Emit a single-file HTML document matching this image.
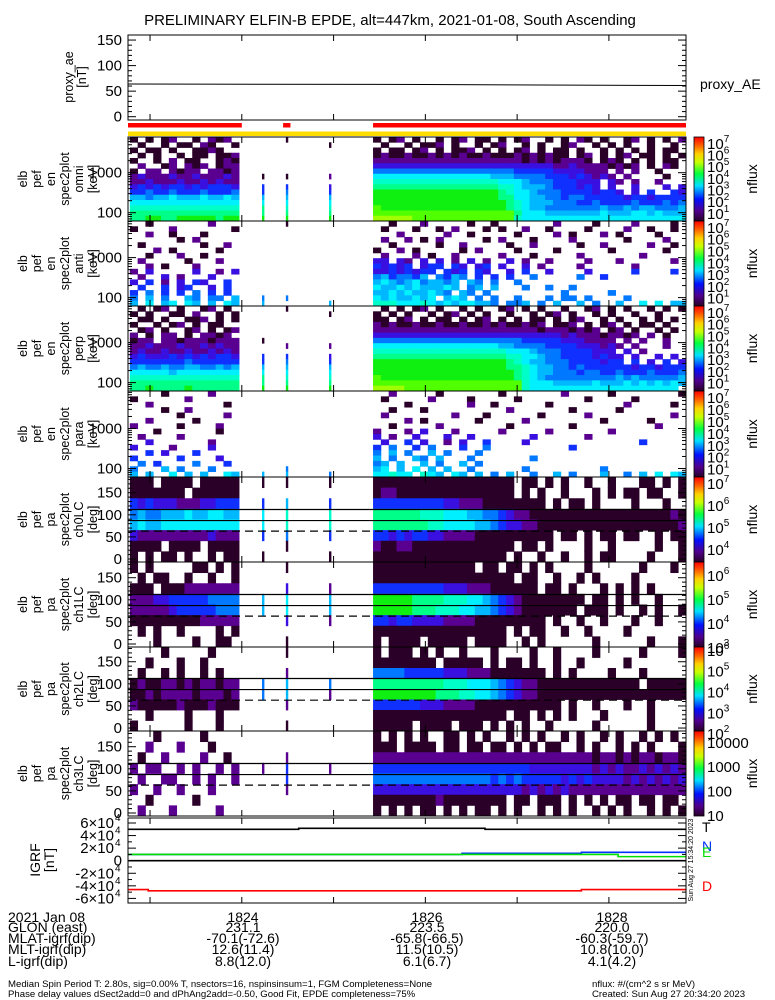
<!DOCTYPE html>
<html><head><meta charset="utf-8"><style>
html,body{margin:0;padding:0;background:#fff;}
svg{display:block;font-family:"Liberation Sans",sans-serif;}
</style></head><body>
<svg id="chart" width="775" height="1000" viewBox="0 0 775 1000" xmlns="http://www.w3.org/2000/svg">
<defs>
<linearGradient id="cmap" x1="0" y1="1" x2="0" y2="0">
<stop offset="0" stop-color="#280028"/><stop offset="0.12" stop-color="#50008c"/><stop offset="0.26" stop-color="#0010ff"/><stop offset="0.42" stop-color="#00e0ff"/><stop offset="0.56" stop-color="#00ff40"/><stop offset="0.7" stop-color="#c8ff00"/><stop offset="0.8" stop-color="#ffd000"/><stop offset="0.9" stop-color="#ff6000"/><stop offset="1" stop-color="#ff0000"/>
</linearGradient>
</defs>
<text x="390" y="25" font-size="15" text-anchor="middle">PRELIMINARY ELFIN-B EPDE, alt=447km, 2021-01-08, South Ascending</text>
<g id="g"></g>
<g font-size="14">
<text x="8" y="922">2021 Jan 08</text><text x="8" y="932">GLON (east)</text><text x="8" y="943">MLAT-igrf(dip)</text><text x="8" y="954">MLT-igrf(dip)</text><text x="8" y="966">L-igrf(dip)</text>
<g text-anchor="middle">
<text x="243" y="922">1824</text><text x="243" y="932">231.1</text><text x="243" y="943">-70.1(-72.6)</text><text x="243" y="954">12.6(11.4)</text><text x="243" y="966">8.8(12.0)</text>
<text x="427" y="922">1826</text><text x="427" y="932">223.5</text><text x="427" y="943">-65.8(-66.5)</text><text x="427" y="954">11.5(10.5)</text><text x="427" y="966">6.1(6.7)</text>
<text x="612" y="922">1828</text><text x="612" y="932">220.0</text><text x="612" y="943">-60.3(-59.7)</text><text x="612" y="954">10.8(10.0)</text><text x="612" y="966">4.1(4.2)</text>
</g></g>
<g font-size="9.6">
<text x="8" y="987">Median Spin Period T: 2.80s, sig=0.00% T, nsectors=16, nspinsinsum=1, FGM Completeness=None</text>
<text x="8" y="997">Phase delay values dSect2add=0 and dPhAng2add=-0.50, Good Fit, EPDE completeness=75%</text>
<text x="592" y="987">nflux: #/(cm^2 s sr MeV)</text>
<text x="592" y="997">Created: Sun Aug 27 20:34:20 2023</text>
</g>
</svg>
<script>
const NS="http://www.w3.org/2000/svg";
const G=document.getElementById('g');
// ---- data ----
const timeTicks=[23,24,25,26,27,28];
const leftSeg=[22.78,23.97];
const rightSeg=[25.43,28.84];
const spikeTimes=[24.22,24.48,24.95];
const proxyTimes=[22.76,26.0,28.84];
const proxyValues=[64,63,61];
const redBarSegs=[[22.76,24.0],[24.45,24.53],[25.43,28.84]];
const igrfT_times=[22.76,24.62,26.65,28.84];
const igrfT_values=[50000,51500,50000];
const igrfN_times=[22.76,25.9,26.4,27.7,28.84];
const igrfN_values=[10000,10000,11700,13300];
const igrfE_times=[22.76,28.1,28.84];
const igrfE_values=[10000,6500];
const igrfD_times=[22.76,22.98,27.7,28.84];
const igrfD_values=[-46000,-48000,-46000];
const igrfZero=[0];
const paSolid=[87,112];
const paDashed=[63];
const energyTicks=[100,1000];
const paTicks=[0,50,100,150];
const palette={a:'#2a0028',b:'#5a0090',c:'#3a10e0',d:'#1030ff',e:'#0078ff',f:'#00b8ff',g:'#00f0ff',h:'#00ffc8',i:'#00ff88',j:'#10f010',k:'#50ff00',l:'#a0ff00'};

const L1=["a.a.ab..a.bab.",".a..a.aa.ba..a","a.aa.a..aaba..",".a.a..a.aa.aab","a..a.b.aa..aba",".b..ab.bab.abb","a.bb.babb.bbab","bcbbbcbbcbbbcb","bbcbbbcbbcbcbb","cdcdcddcdcdddc","ddeddedddeddde","ffeffgfffgffgf","gggggggggggggg","hhhhhhhhhhhhhh","iiiiiiiiiiiiii","iijjiijjjjjijj"];
const R1=["a.ab.a..a.ab.aa.a.ab..a.a.ba.a..ab.a.a.b",".a..a.aab.a..a.ab..a.a..ab..a.a.a..a..a","a.aa.ab.a.aab.a.a.ab.a.aa.a..a.a.a.a.aa","abaabaabababaabaaabababaa.ab.a.ab.aa.a.a","bbbbbbbbbbbbbbbbbbbabababbba.aba.a.a.aa.","cccccccccccccccccccccccbbcbbbbabab.a.ba.","eeeeeeeeeeeeeeeeeedddddccccbbb.b.b..a...","gggggggggggggggfffeeeedddcdcbcb.b....a..","hhhhhhhhhhhhhhhhgggfeeedddccc.cb.b..b...","iiiiiiiiiiiiiiiihhgfffedddcdc.c..c...c.c","jjjjjjjjjjjjjjjjihggfeeeddddcddc.c.d..dc","jjjjjjjjjjjjjjjjiiggffeedeedddddcddcdddd","jjjjjjjjjjjjjjjjjihgfffeeeddeddddedddede","kjjjjjjjjjjjjjjjjihgffeeeeeeefeefeffeeef","kkkkkkkkkkkkkkkkkkigggfffffffgfffggfgfff","lllllkkkkkkkkkkkkkhggggggggggggggggggggg"];
const S1=[".......a.ddfgiij","a......a.defghij",".a.....b.cdfghij"];
const L2=["..a.......b...","a....b.......a","..b..a...a....","......a.b.....",".a.......a..b.","...b.a.....a..","..a...b..a....",".b.....a...b..","..b.a...b.....","b.c.....c..b.c",".b..c.b...c...","c.d.b.c.dc..d.",".d..d.cd..c.d.","d.e.d.d.e.d.d.","e.f.e..fe.ee.f","f.g.fg.gf.f.gf"];
const R2=["..a...b.....a..a.......b....a....b....a.",".a...a..a.b...a.a..b..a....a....b..a..a.","...b.....b..a.....a....b.a...b.a....a...",".b..b.a.b.....a.b...a....b......a....b..","..a.....a..b.....a..b.....a..b.....b..a.","a..b.a.....a.b....a....a......a......a..",".b...b.a..b.....b...a.....b.......b.....","cc.cb.c.c.b.c.b..c.b..b....b...b......b.","dcdcd.cdd.dc.cd.c..c.b....b......b......","ccdcdcdd.dcd.dc..c.d..c....c.....d....d.","efdeedf.edfe.d.d.d..e.....e..d..........","fgfefgeffef.fe.e..e.....................","gffgfgfffgf.ef.f...e..e..e..............","ffgfgffgfe.fe.e.........e.....e.........","gfgffgfg.fgf.e.e..e...e.ee.e....e.......","hhhggghgfgfggffe.eef.e.f..f.e..f..g.g.ff"];
const S2=["..............ef","a.............e.","...............f"];
const L3=[".a.ab.a..ab.a.","a.a..aa.b..a.a",".aa.a..aab.a.a","a..a.ab.a.aa..",".ab.a..ab.a.ab","b.a.bb.a.bbab.","abb.bbabbbabbb","bbcbbbcbbcbcbb","bcbbcbbcbbcbcb","cdcccdcdcdcddc","dddddddedddddd","efeefeeffeefef","gggggfgggggggg","hhhhhhhhhhhhhh","iiiiiiiiiiiiii","iijiiiijiiiiii"];
const R3=[".a.a.ab.a..a.a..ab.a.a..a..ab.a.a..a.a.a","a.a.a..a.ab.a.a..a..a.ab.a..a.a..a..a..","aa.ab.a.aa.a.ab.a.a.aa.a.ab..a.a..a.a.a.","babaabaabaabaababaabab.aab.a.ab.a.aa.a..","bbbbbbbbbbbbbbbbbbbbbabbbabab.ab.a..a.a.","ccccccccccccccccccccccccbcbbbabbab.b.a..","eeeeeeeeeeeeeeeeeeedddddcccbbbb.b.b..b..","ggggggggggggggggffeeeeddddcccbcb.b...b..","hhhhhhhhhhhhhhhhhgggfeeeddddccc.c.b.....","iiiiiiiiiiiiiiiiihhggfeeddddcdcc.c..c.c.","jjjjjjjjjjjjjjjjjihgffeeeddddcdd.d.c.d.c","jjjjjjjjjjjjjjjjjiihgffeededdddddcddcddd","jjjjjjjjjjjjjjjjjjihgffeeedeeddedddeddde","kjjjjjjjjjjjjjjjjjihgfeeeeeeeeefefeeeeef","kkkkkkkkkkkkkkkkkkkhgggfffffgfffgfgfgfgf","llllkkkkkkkkkkkkkkkhggggggggggggggggggg"];
const S3=["......a..ddfgiij","a......b.defghij",".a.....b.cdfghij"];
const L4=["....a.....b...","a......b......","..b.........a.","....a..b......","......a.....b.","..b.....a.....","b.....a....b..","...a.......a..",".b....b.......","..c.......b...","c....b....c...","..d.c...d.....","d.....d....c..",".e.d....e...d.","e...f.e...e...","f.f..g.f.f..gf"];
const R4=["..b.....a.......a.......b.....a........a",".a.....b....a.....a........a.....a.....","....a.......b..a......a.........b.....a.","..a...a..........b.......a.....a.......",".b........b...a......a.....b..........b.","....b.a......a.....b.........a.....a....","..a.....b........a.......a..........b...","b...b.c...b.....b.....b.......b.........","c.b..c...c..c.......c......b............",".c..d.c..b.c..d....c..............d.....","d.e..d.e...d..e..........d..............","e.f.e..f.e...e..........................","f.e..fe.f...e.......e...................","ef.f..f.e..f.e..........................","fg.f.g.f.f..e......e.........e..........","gghgg.hgf.gf.f.e.f..e..f.e...f..e.f.g.gf"];
const S4=["...............f","..............ef","...............e"];
const L5=["aaa.aaaa.aaaaa","aaaaaaa.aaaaaa","dcdcccbbbccddd","efeefffgffggff","fgffgggggggggg","cbbbbbbbbbcbbb","aaaa.aaaa.aaaa","a.a.aa.a..a.aa"];
const R5=["aaaaaaaaaaaaaaaaaa.aa.a.a..a..a...aa.a.a","abbaaaaaaaaaaaaaaa.a.a..a...a.a.aa.aa..a","dddddddddccbbbaaaaaaaa.a.aa.a....a...a..","iiiiiihhhgggffeedcbbaaaaaaaaaaaaaaaaaaba","iiiiiiihhggggffedccbbaaaaaaaaaaaaaaaaaab","ddcdcddccbbbbaaaaaaaaaa.aa.a.aa.aa..a.aa","baabbaaaaaaaaaaaaa.aa.a....a..a.....a..a","aaaaaaaaaaaaaaaaa.a..a..a..a.aa....a...a"];
const S5=["a.dggd.a","a.fhhea.","a.dhhd.a"];
const L6=["a.a.....aa.a.a",".a.aa..a..a..a","aaa.aaabbbbbbb","bbbccdddddeeee","bbbbbcdddddeee","aaaaaaaaabbbbb",".a.a..a....a.a","...a....a..aa."];
const R6=["aaaaaaaaaaaaa.aa.aa.a.a....a......a...a.","aaaaaaaaaaaaaaaaaa.aa..a..a.a....a......","dddddddddcccbbbaaaaaa.aa.a...a.a.a.a....","jjjjjiiiihhhggfedcbaaaaaaaa.aa.a.a..a...","jjjjjiiihhhggffedcbaaaaaaa.aaa.a..a.a..a","ddcddccccbbbbaaaaaaaaa.a..a..a...a..a...","aaaaaaaaaaaaaaaaa.a.aa..a..a....a.......","a.aaaa.aaaaa.aaaa..a.a......a......a...a"];
const S6=["...ff...","a.cggc.a","..bffb.."];
const L7=["....a.....a...","..a...a..a....",".a..a.a..a.a..","abaabbababbabb","aababbbbabbbab","baaaaabaaabaaa","..a....a...a..","a......a...a.."];
const R7=["a.aaa.a.a..a...a....a..a....a.....a....a","aaaaaaaa.aaaaa.a.aa.a..a..a.....a.......","eeeedddddcccbbbaaaaaaa.a.a....a...a.....","iiiiiiiiihhhgggfedcbbaaaaaaaaaaaaa.aaaaa","jjjjjjjjiiihhggfedcbbaaaaaaaaaaaaaaaaaaa","ddddddcccbbbbaaaaaaaaaaa.a..a...a..a....","aaaaaaaaaaaaaaaaa.aa.a.a.a...a.....a....","aaaaa.aaaa.aaa.a.a.a..a.....a......a...."];
const S7=["...ee...","a.bffb.a","...eb..."];
const L8=["...a.....a....","..b...b...a...",".a..b....b..a.","b.bb..b.b..b.b",".b..bb..b.b..b","b..b..b...b...","..a.....a.....",".b...b.....b.."];
const R8=["a.a.a.a..aa.a.a..a.a.a..a.a..a.a..a.a.a.","aaa.aaaa.aa.aa.aa.a.a.aa..a.a..a.a.a...a","bbbbbbbbbbbbbbbbbbbbbbbbbbbbabbababbabba","ddddddddddddddddddddccccccccbcbcbbcbcbcb","eeeeeeeeeeeeeeedededddddcdcdccccbcbcbcbc","cccccccccccccccccccbcbcbcbbbbbbbbbbbbbbb","aaaaaaaabaaaaaaaa.aa.aaa.a.a.a.aa.aa.aa.","a.a.a.aa.a.a.aa.a.a..a.a.a..a.a.a..a.a.a"];
const S8=["...b....","..bddb..","...b...."];

// ---- layout ----
const X0=128,X1=686,T0=22.76,T1=28.84;
function xs(t){return X0+(t-T0)*(X1-X0)/(T1-T0);}
function el(tag,attrs,parent){const e=document.createElementNS(NS,tag);for(const k in attrs)e.setAttribute(k,attrs[k]);(parent||G).appendChild(e);return e;}
function txt(x,y,s,attrs,parent){const e=el('text',Object.assign({x:x,y:y},attrs||{}),parent);e.textContent=s;return e;}

const panels=[
 {top:137,h:84,type:'en',lab:['elb','pef','en','spec2plot','omni','[keV]'],L:L1,R:R1,S:S1,cb:[0.3,7.5],cbl:[1,2,3,4,5,6,7],name:'omni'},
 {top:221,h:85,type:'en',lab:['elb','pef','en','spec2plot','anti','[keV]'],L:L2,R:R2,S:S2,cb:[0.3,7.5],cbl:[1,2,3,4,5,6,7],name:'anti'},
 {top:306,h:85,type:'en',lab:['elb','pef','en','spec2plot','perp','[keV]'],L:L3,R:R3,S:S3,cb:[0.3,7.5],cbl:[1,2,3,4,5,6,7],name:'perp'},
 {top:391,h:86,type:'en',lab:['elb','pef','en','spec2plot','para','[keV]'],L:L4,R:R4,S:S4,cb:[0.3,7.5],cbl:[1,2,3,4,5,6,7],name:'para'},
 {top:477,h:85,type:'pa',lab:['elb','pef','pa','spec2plot','ch0LC','[deg]'],L:L5,R:R5,S:S5,cb:[3.4,7.27],cbl:[4,5,6,7],name:'ch0lc'},
 {top:562,h:85,type:'pa',lab:['elb','pef','pa','spec2plot','ch1LC','[deg]'],L:L6,R:R6,S:S6,cb:[3.0,6.54],cbl:[3,4,5,6],name:'ch1lc'},
 {top:647,h:84,type:'pa',lab:['elb','pef','pa','spec2plot','ch2LC','[deg]'],L:L7,R:R7,S:S7,cb:[2.1,6.14],cbl:[2,3,4,5,6],name:'ch2lc'},
 {top:731,h:85,type:'pa',lab:['elb','pef','pa','spec2plot','ch3LC','[deg]'],L:L8,R:R8,S:S8,cb:[0.95,4.45],cbl:[1,2,3,4],plain:true,name:'ch3lc'}
];

function timeTickMarks(top,bot,g){
  timeTicks.forEach(t=>{const x=xs(t);
    el('line',{x1:x,y1:bot,x2:x,y2:bot-6,stroke:'#000'},g);
    el('line',{x1:x,y1:top,x2:x,y2:top+6,stroke:'#000'},g);});
}
function rotLabel(lines,xsArr,cy,g,fs){
  lines.forEach((s,i)=>{const x=xsArr[i];
    txt(x,cy,s,{'font-size':fs||12.5,'text-anchor':'middle',transform:'rotate(-90 '+x+' '+cy+')'},g);});
}

// ---- proxy AE panel ----
(function(){
  const g=el('g',{});
  
  
  const top=35,bot=120;
  const yv=v=>116.7-v*0.511;
  let d='';proxyTimes.forEach((t,i)=>{d+=(i?'L':'M')+xs(t)+' '+yv(proxyValues[i]);});
  const p=el('path',{d:d,stroke:'#000','stroke-width':1,fill:'none'},g);
  
  
  el('rect',{x:X0,y:top,width:X1-X0,height:bot-top,fill:'none',stroke:'#000'},g);
  for(let v=0;v<=150;v+=10){const y=yv(v);const L=v%50==0?8:4;
    el('line',{x1:X0,y1:y,x2:X0+L,y2:y,stroke:'#000'},g);el('line',{x1:X1,y1:y,x2:X1-L,y2:y,stroke:'#000'},g);}
  [0,50,100,150].forEach(v=>txt(122,yv(v)+5,String(v),{'font-size':15,'text-anchor':'end'},g));
  timeTickMarks(top,bot,g);
  rotLabel(['proxy_ae','[nT]'],[73,86],77,g);
  const l=txt(700,89,'proxy_AE',{'font-size':14},g);
  
  
  redBarSegs.forEach(s=>{const r=el('rect',{x:xs(s[0]),y:123,width:xs(s[1])-xs(s[0]),height:4.5,fill:'#ff0000'},g);
    
    });
  const yb=el('rect',{x:X0,y:131.5,width:X1-X0,height:4.5,fill:'#ffdd00'},g);
  
  
})();

// ---- spectrogram panels ----
panels.forEach((P,pi)=>{
  const g=el('g',{});
  
  
  const nr=P.L.length, rh=P.h/nr;
  function drawSeg(rows,t0,t1){
    const nc=rows[0].length, cw=(xs(t1)-xs(t0))/nc;
    rows.forEach((row,ri)=>{for(let ci=0;ci<nc;ci++){const ch=row[ci];if(!ch||ch=='.')continue;
      const c=el('rect',{x:xs(t0)+ci*cw,y:P.top+ri*rh,width:cw+0.4,height:rh+0.4,fill:palette[ch]},g);
      
      }});
  }
  drawSeg(P.L,leftSeg[0],leftSeg[1]);
  drawSeg(P.R,rightSeg[0],rightSeg[1]);
  P.S.forEach((col,si)=>{const x=xs(spikeTimes[si]);
    for(let ri=0;ri<col.length;ri++){const ch=col[ri];if(ch=='.')continue;
      const c=el('rect',{x:x,y:P.top+ri*(P.h/col.length),width:2.4,height:P.h/col.length+0.4,fill:palette[ch]},g);
      
      }});
  const bot=P.top+P.h;
  if(P.type=='pa'){
    const ya=v=>P.top+82*P.h/85-v*0.442;
    paSolid.forEach(v=>{const l=el('line',{x1:X0,y1:ya(v),x2:X1,y2:ya(v),stroke:'#000','stroke-width':1.2},g);
      
      });
    paDashed.forEach(v=>{const l=el('line',{x1:X0,y1:ya(v),x2:X1,y2:ya(v),stroke:'#000','stroke-width':1.2,'stroke-dasharray':'8 5'},g);
      
      });
    for(let v=0;v<=180;v+=10){const y=ya(v);const L=v%50==0?8:4;
      el('line',{x1:X0,y1:y,x2:X0+L,y2:y,stroke:'#000'},g);el('line',{x1:X1,y1:y,x2:X1-L,y2:y,stroke:'#000'},g);}
    paTicks.forEach(v=>txt(122,ya(v)+5,String(v),{'font-size':15,'text-anchor':'end'},g));
  } else {
    const ye=E=>P.top+75.7*P.h/84-(Math.log10(E)-2)*40;
    [100,1000].forEach(dec=>{for(let m=1;m<10;m++){const E=dec*m;const y=ye(E);if(y<P.top||y>bot)continue;const L=m==1?8:4;
      el('line',{x1:X0,y1:y,x2:X0+L,y2:y,stroke:'#000'},g);el('line',{x1:X1,y1:y,x2:X1-L,y2:y,stroke:'#000'},g);}});
    for(let m=6;m<10;m++){const y=ye(10*m);if(y<=bot){el('line',{x1:X0,y1:y,x2:X0+4,y2:y,stroke:'#000'},g);el('line',{x1:X1,y1:y,x2:X1-4,y2:y,stroke:'#000'},g);}}
    energyTicks.forEach(E=>txt(122,ye(E)+5,String(E),{'font-size':15,'text-anchor':'end'},g));
  }
  el('rect',{x:X0,y:P.top,width:X1-X0,height:P.h,fill:'none',stroke:'#000'},g);
  timeTickMarks(P.top,bot,g);
  rotLabel(P.lab,[27,41,55,69,83,97],P.top+P.h/2,g);
  const cb=el('rect',{x:694,y:P.top,width:10,height:P.h,fill:'url(#cmap)',stroke:'#000','stroke-width':0.8},g);
  
  
  const lo=P.cb[0],hi=P.cb[1];
  P.cbl.forEach(k=>{const y=P.top+P.h*(hi-k)/(hi-lo);
    const t=txt(707,y+6,P.plain?String(Math.pow(10,k)):'10',{'font-size':15},g);
    if(!P.plain){const s=document.createElementNS(NS,'tspan');s.setAttribute('dy','-7');s.setAttribute('font-size','10');s.textContent=String(k);t.appendChild(s);}});
  rotLabel(['nflux'],[757],P.top+P.h/2,g,14);
});

// ---- IGRF panel ----
(function(){
  const g=el('g',{});
  
  
  const top=818,bot=903;
  const yv=v=>860.7-v*(37.7/60000);
  function step(times,vals,color,name){let d='';
    vals.forEach((v,i)=>{d+=(i?'L':'M')+xs(times[i])+' '+yv(v)+'L'+xs(times[i+1])+' '+yv(v);});
    const p=el('path',{d:d,stroke:color,'stroke-width':1.6,fill:'none'},g);
    
    }
  step([T0,T1],igrfZero,'#000','igrf-zero-line');
  step(igrfN_times,igrfN_values,'#0030ff','igrf-n-line');
  step(igrfE_times,igrfE_values,'#00e000','igrf-e-line');
  step(igrfT_times,igrfT_values,'#000','igrf-t-line');
  step(igrfD_times,igrfD_values,'#ff0000','igrf-d-line');
  el('rect',{x:X0,y:top,width:X1-X0,height:bot-top,fill:'none',stroke:'#000'},g);
  for(let v=-60000;v<=60000;v+=10000){const y=yv(v);const L=v%20000==0?8:4;
    el('line',{x1:X0,y1:y,x2:X0+L,y2:y,stroke:'#000'},g);el('line',{x1:X1,y1:y,x2:X1-L,y2:y,stroke:'#000'},g);}
  [-6,-4,-2,0,2,4,6].forEach(k=>{const y=yv(k*10000)+5;
    if(k==0){txt(122,y,'0',{'font-size':15,'text-anchor':'end'},g);return;}
    txt(114,y,(k<0?'-':'')+Math.abs(k)+'×10',{'font-size':15,'text-anchor':'end'},g);
    txt(115,y-7,'4',{'font-size':10},g);});
  timeTickMarks(top,bot,g);
  rotLabel(['IGRF','[nT]'],[40,54],860,g,14);
  [['T','#000',832],['N','#0030ff',851],['E','#00e000',857],['D','#ff0000',891]].forEach(a=>{
    const t=txt(702,a[2],a[0],{'font-size':14,fill:a[1]},g);
    
    });
  txt(693,860,'Sun Aug 27 15:34:20 2023',{'font-size':7,'text-anchor':'middle',transform:'rotate(-90 693 860)'},g);
})();
</script>
</body></html>
